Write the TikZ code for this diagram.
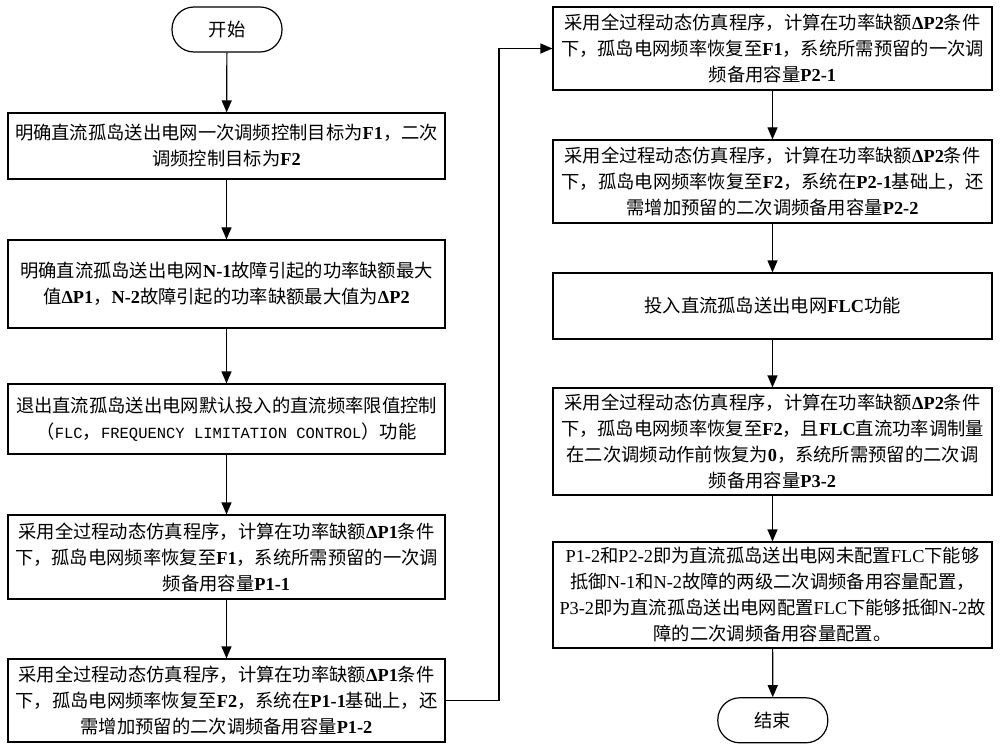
\documentclass[tikz,border=0pt]{standalone}
\usepackage{fontspec}
\setmainfont{Liberation Serif}
\setmonofont{Liberation Mono}
\newfontfamily\cjk{Noto Sans CJK SC}
\usetikzlibrary{arrows.meta}
\newcommand\en[1]{{\rmfamily\bfseries #1}}
\newcommand\enr[1]{{\rmfamily #1}}
\newcommand\entt[1]{{\ttfamily\fontsize{15.5}{26}\selectfont #1}}
\tikzset{
  stepbox/.style={draw, line width=1.2pt, minimum width=#1, inner sep=0pt,
    align=center, font=\cjk\fontsize{18.3}{26}\selectfont},
  termbox/.style={draw, line width=1.2pt, rounded corners=22pt, minimum width=110pt,
    minimum height=45pt, font=\cjk\fontsize{18.3}{26}\selectfont},
  flow/.style={line width=1.2pt, -{Triangle[length=12pt,width=10pt]}}
}
\begin{document}
\begin{tikzpicture}[x=1pt,y=-1pt]
  \useasboundingbox (0,0) rectangle (1000,751);
  % left column
  \node[termbox] (start) at (227,29.5) {开始};
  \node[stepbox=437pt, minimum height=66pt] (b1) at (226.5,146)
    {明确直流孤岛送出电网一次调频控制目标为\en{F1}，二次\\调频控制目标为\en{F2}};
  \node[stepbox=437pt, minimum height=88pt] (b2) at (226.5,284)
    {明确直流孤岛送出电网\en{N-1}故障引起的功率缺额最大\\值\en{ΔP1}，\en{N-2}故障引起的功率缺额最大值为\en{ΔP2}};
  \node[stepbox=437pt, minimum height=70pt] (b3) at (226.5,419)
    {退出直流孤岛送出电网默认投入的直流频率限值控制\\（\entt{FLC}，\entt{FREQUENCY LIMITATION CONTROL}）功能};
  \node[stepbox=437pt, minimum height=84pt] (b4) at (226.5,557)
    {采用全过程动态仿真程序，计算在功率缺额\en{ΔP1}条件\\下，孤岛电网频率恢复至\en{F1}，系统所需预留的一次调\\频备用容量\en{P1-1}};
  \node[stepbox=437pt, minimum height=83pt] (b5) at (226.5,700.5)
    {采用全过程动态仿真程序，计算在功率缺额\en{ΔP1}条件\\下，孤岛电网频率恢复至\en{F2}，系统在\en{P1-1}基础上，还\\需增加预留的二次调频备用容量\en{P1-2}};
  % right column
  \node[stepbox=439pt, minimum height=83pt] (r1) at (772.5,48.5)
    {采用全过程动态仿真程序，计算在功率缺额\en{ΔP2}条件\\下，孤岛电网频率恢复至\en{F1}，系统所需预留的一次调\\频备用容量\en{P2-1}};
  \node[stepbox=439pt, minimum height=83pt] (r2) at (772.5,181.5)
    {采用全过程动态仿真程序，计算在功率缺额\en{ΔP2}条件\\下，孤岛电网频率恢复至\en{F2}，系统在\en{P2-1}基础上，还\\需增加预留的二次调频备用容量\en{P2-2}};
  \node[stepbox=439pt, minimum height=66pt] (r3) at (772.5,306)
    {投入直流孤岛送出电网\en{FLC}功能};
  \node[stepbox=439pt, minimum height=107pt] (r4) at (772.5,441.5)
    {采用全过程动态仿真程序，计算在功率缺额\en{ΔP2}条件\\下，孤岛电网频率恢复至\en{F2}，且\en{FLC}直流功率调制量\\在二次调频动作前恢复为\en{0}，系统所需预留的二次调\\频备用容量\en{P3-2}};
  \node[stepbox=439pt, minimum height=106pt] (r5) at (772.5,595)
    {\enr{P1-2}和\enr{P2-2}即为直流孤岛送出电网未配置\enr{FLC}下能够\\抵御\enr{N-1}和\enr{N-2}故障的两级二次调频备用容量配置，\\\enr{P3-2}即为直流孤岛送出电网配置\enr{FLC}下能够抵御\enr{N-2}故\\障的二次调频备用容量配置。};
  \node[termbox] (end) at (772.8,720.3) {结束};
  % connectors
  \foreach \a/\b in {start/b1, b1/b2, b2/b3, b3/b4, b4/b5, r1/r2, r2/r3, r3/r4, r4/r5, r5/end}
    \draw[flow] (\a) -- (\b);
  \coordinate (turn) at (499,700.5);
  \draw[flow] (b5.east) -- (turn) |- (r1.west);
\end{tikzpicture}
\end{document}
